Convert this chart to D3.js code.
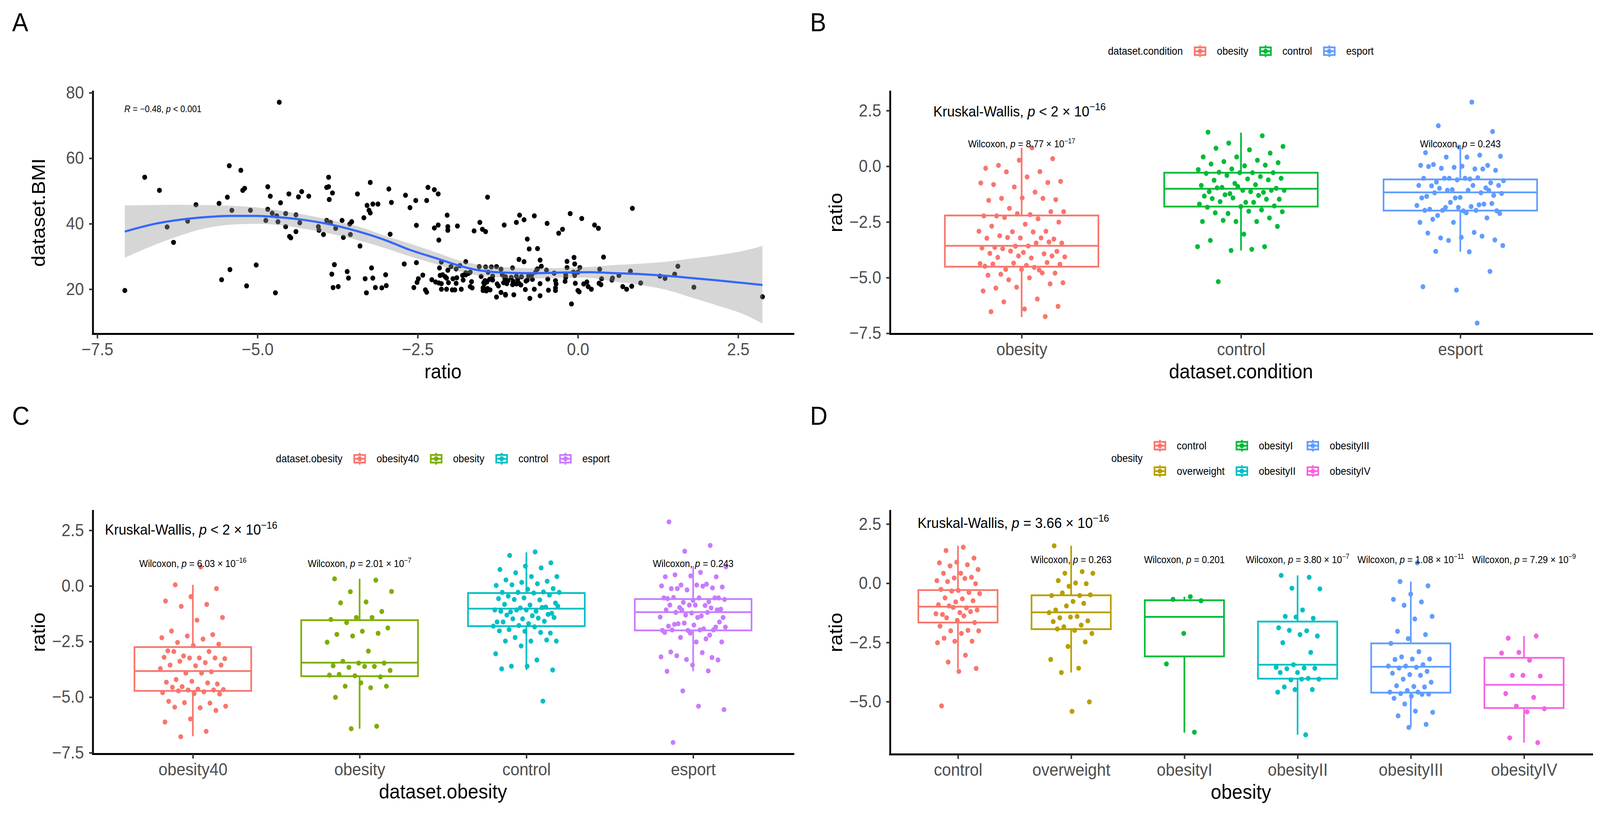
<!DOCTYPE html>
<html lang="en">
<head>
<meta charset="UTF-8">
<title>ratio vs BMI and obesity groups</title>
<style>
  html, body { margin: 0; padding: 0; background: #fff; overflow: hidden; }
  #figure svg { display: block; width: 100vw; height: 100vh; }
  svg text { font-family: "Liberation Sans", Arial, Helvetica, sans-serif; }
</style>
</head>
<body>
<div id="figure"></div>
<script src="https://cdn.jsdelivr.net/npm/d3@7"></script>
<script>
// ---------------- data ----------------

// panel A: [ratio, BMI]
var scatterPoints = [
  [-7.07,19.6],[-6.76,54.2],[-6.53,50.2],[-6.41,39.0],[-6.31,34.3],[-6.09,40.8],[-5.96,45.8],[-5.60,46.2],
  [-5.56,22.9],[-5.47,48.1],[-5.44,57.7],[-5.43,26.0],[-5.40,44.1],[-5.26,56.3],[-5.23,50.2],[-5.20,50.8],
  [-5.17,21.0],[-5.11,44.1],[-5.02,27.4],[-4.87,41.0],[-4.84,51.3],[-4.84,44.4],[-4.80,48.4],[-4.77,43.2],
  [-4.70,42.4],[-4.68,40.6],[-4.72,18.9],[-4.66,77.1],[-4.64,46.4],[-4.56,39.1],[-4.56,43.1],[-4.51,49.1],
  [-4.50,36.1],[-4.48,35.7],[-4.40,37.6],[-4.40,42.7],[-4.34,40.3],[-4.36,48.2],[-4.31,49.8],[-4.20,48.4],
  [-4.05,39.1],[-4.04,38.0],[-3.97,36.7],[-3.92,41.0],[-3.92,51.1],[-3.89,51.3],[-3.89,54.2],[-3.88,47.4],
  [-3.84,24.6],[-3.83,49.4],[-3.82,20.5],[-3.74,20.8],[-3.86,40.4],[-3.80,27.5],[-3.78,38.6],[-3.68,41.0],
  [-3.66,35.8],[-3.60,25.4],[-3.58,23.4],[-3.56,39.9],[-3.55,36.7],[-3.53,40.6],[-3.44,49.1],[-3.40,33.2],
  [-3.34,41.8],[-3.32,23.2],[-3.30,18.9],[-3.29,45.6],[-3.26,44.1],[-3.24,43.3],[-3.24,52.6],[-3.22,26.5],
  [-3.20,46.0],[-3.20,23.4],[-3.16,20.5],[-3.12,46.0],[-3.06,20.4],[-3.00,24.4],[-2.99,21.1],[-2.95,50.6],
  [-2.93,36.8],[-2.91,46.5],[-2.69,48.7],[-2.62,44.9],[-2.53,47.1],[-2.52,39.5],[-2.34,51.1],[-2.36,47.1],
  [-2.24,50.4],[-2.18,49.1],[-2.24,38.7],[-2.18,39.6],[-2.04,42.6],[-2.03,39.1],[-2.03,38.0],[-1.88,39.3],
  [-1.53,40.4],[-1.49,38.3],[-1.44,37.6],[-1.41,48.1],[-1.62,37.8],[-1.15,39.6],[-0.96,40.4],[-0.91,42.6],
  [-0.84,41.2],[-0.68,42.4],[-0.48,40.1],[-0.24,38.3],[-0.12,43.1],[0.06,41.6],[0.26,39.6],[0.32,38.6],
  [0.85,44.7],[1.36,23.3],[1.51,24.6],[1.56,27.0],[1.81,20.6],[2.88,17.7],
  [-2.17,35.0],[-0.79,35.3],[-0.30,37.1],[-0.76,32.3],[-0.63,32.4],[0.40,29.8],[-0.06,29.7],[-0.92,29.1],
  [-0.84,28.4],[-0.59,28.9],[-0.17,28.5],[-0.05,27.7],[-1.75,28.4],[-2.52,28.1],[-2.71,27.7],[-2.13,28.3],
  [-1.84,27.2],[-1.98,26.9],[-1.90,26.2],[-2.16,26.5],[-2.03,25.8],[-1.54,26.9],[-1.44,26.8],[-1.35,26.8],
  [-1.27,26.9],[-1.20,26.1],[-1.02,26.5],[-0.57,27.0],[-0.63,26.2],[-0.17,26.6],[0.03,26.6],[0.34,26.1],
  [0.82,25.5],[-0.49,25.8],[-0.37,24.9],[-0.07,25.2],[0.00,25.2],[-0.05,24.2],[-0.19,24.4],[-0.19,23.6],
  [0.64,24.2],[0.37,23.2],[0.54,23.4],[0.53,22.8],[0.98,21.9],[1.28,24.0],[-1.75,25.0],[-1.71,24.8],
  [-1.68,25.2],[-1.80,24.2],[-1.75,24.4],[-1.40,25.2],[-1.33,24.0],[-1.51,23.9],[-1.38,23.0],[-1.33,22.8],
  [-1.45,22.6],[-1.42,22.2],[-1.47,22.0],[-1.46,21.6],[-1.48,20.4],[-1.45,20.0],[-1.41,20.2],[-1.37,19.8],
  [-1.43,19.5],[-1.48,19.6],[-1.18,24.4],[-1.13,23.8],[-1.04,23.6],[-0.96,24.0],[-0.88,23.8],[-0.94,23.0],
  [-1.01,22.4],[-1.09,22.6],[-1.14,23.2],[-1.16,22.0],[-1.11,21.7],[-1.02,21.4],[-0.92,21.8],[-0.89,21.3],
  [-0.96,21.6],[-1.26,21.6],[-1.24,21.0],[-0.79,22.8],[-0.81,22.5],[-0.71,23.0],[-0.77,24.0],[-0.72,24.4],
  [-0.66,25.2],[-0.64,26.0],[-0.59,21.7],[-0.47,23.1],[-0.35,22.6],[-0.34,21.6],[-0.35,20.4],[-0.35,19.6],
  [-0.20,22.4],[-0.04,21.8],[0.09,21.6],[0.14,22.2],[0.16,20.8],[0.21,20.0],[0.00,19.6],[0.02,19.2],
  [0.33,21.8],[0.36,21.4],[0.70,20.8],[0.76,20.0],[0.84,20.9],[-0.68,20.0],[-0.82,19.9],[-0.46,19.7],
  [-0.59,18.0],[-0.75,17.2],[-0.10,15.5],[-1.00,18.3],[-1.20,19.0],[-1.13,18.2],[-1.13,18.4],[-1.27,17.6],
  [-2.42,24.3],[-2.49,23.2],[-2.51,22.1],[-2.56,20.5],[-2.38,19.8],[-2.36,19.1],[-2.28,22.9],[-2.22,22.2],
  [-2.13,21.7],[-2.17,21.9],[-2.13,20.0],[-2.05,20.0],[-2.11,24.4],[-2.07,23.8],[-2.05,23.4],[-2.15,24.2],
  [-2.02,22.0],[-1.95,23.2],[-1.89,23.5],[-1.96,19.8],[-1.92,19.8],[-1.90,21.8],[-1.82,20.0],[-1.79,22.8],
  [-1.68,20.8],[-1.65,20.4],[-1.66,22.3]
];

// loess fit and its confidence band
var smoothRatio = [-7.07,-6.62,-6.22,-5.82,-5.42,-5.02,-4.62,-4.22,-3.82,-3.42,-3.02,-2.62,-2.22,-1.82,-1.58,-1.34,-1.02,-0.62,-0.22,0.18,0.58,0.98,1.38,1.78,2.18,2.58,2.88];
var smoothFit   = [37.6,39.9,41.2,42.0,42.4,42.4,41.9,41.0,39.6,37.6,35.1,32.0,29.5,27.0,25.9,25.3,25.0,24.9,25.1,25.2,24.9,24.6,24.1,23.4,22.7,21.9,21.3];
var smoothUpper = [45.6,45.7,45.8,45.7,45.5,45.0,43.9,42.6,41.0,39.1,36.4,33.9,31.3,28.6,27.6,27.0,26.6,26.4,26.5,26.8,27.4,27.8,28.4,29.4,30.4,31.7,33.2];
var smoothLower = [29.6,33.4,36.3,38.6,39.7,40.0,39.5,38.3,36.8,34.9,32.6,30.0,27.7,25.3,24.3,23.8,23.3,23.3,23.6,23.5,22.3,21.3,19.8,17.4,15.0,12.4,9.5];

// panel B: ratio by dataset.condition
var conditionCats = ["obesity", "control", "esport"];
var ratioObesity = [0.83,0.04,0.34,0.27,-0.09,-0.24,-0.25,-0.68,-0.48,-0.82,-0.73,-0.93,-0.75,-1.16,-1.44,-1.50,-1.42,-1.53,-1.44,-1.89,-2.04,-2.17,-2.23,-2.04,-2.13,-2.23,-2.36,-2.30,-2.51,-2.60,-2.69,-2.92,-2.94,-2.92,-2.95,-3.12,-3.27,-3.22,-3.23,-3.22,-3.20,-3.45,-3.58,-3.64,-3.40,-3.59,-3.67,-3.45,-3.70,-3.82,-3.87,-3.91,-3.93,-3.81,-4.07,-4.12,-4.09,-4.03,-4.03,-4.49,-4.66,-4.63,-4.40,-4.45,-4.39,-4.32,-4.35,-4.37,-4.54,-4.85,-4.80,-4.63,-4.89,-4.79,-5.10,-5.23,-5.01,-5.47,-5.28,-5.43,-5.60,-5.96,-6.09,-6.29,-6.41,-6.53,-6.75];
var ratioControl = [1.53,1.37,1.04,0.89,0.74,0.81,0.59,0.42,0.42,0.27,0.21,0.16,0.02,0.10,0.05,-0.12,-0.15,-0.29,-0.27,-0.29,-0.29,-0.32,-0.46,-0.41,-0.54,-0.57,-0.63,-0.61,-0.77,-0.86,-0.83,-0.95,-0.99,-1.08,-1.14,-1.17,-1.23,-1.08,-1.14,-0.97,-1.08,-0.91,-1.34,-1.31,-1.28,-1.48,-1.62,-1.45,-1.48,-1.42,-1.70,-1.62,-1.59,-1.78,-1.81,-1.84,-1.96,-2.12,-2.04,-2.02,-2.09,-2.32,-2.48,-2.48,-2.48,-2.43,-2.70,-3.05,-3.33,-3.61,-3.78,-3.61,-3.73,-5.18];
var ratioEsport = [2.88,1.82,1.56,0.86,0.61,0.50,0.41,0.45,0.41,0.08,0.04,-0.05,0.04,-0.12,-0.09,-0.18,0.00,-0.01,-0.12,-0.54,-0.65,-0.57,-0.71,-0.74,-0.61,-0.54,-0.52,-0.54,-0.86,-0.54,-0.88,-0.97,-1.05,-0.86,-0.86,-0.99,-1.31,-1.40,-1.35,-1.19,-1.08,-1.22,-1.08,-1.19,-1.08,-1.42,-1.42,-1.98,-1.98,-2.00,-2.00,-1.93,-1.70,-1.62,-1.76,-1.81,-2.21,-1.67,-1.85,-1.98,-1.73,-1.85,-2.12,-2.09,-2.38,-2.32,-2.52,-2.52,-2.97,-3.22,-3.31,-3.19,-3.00,-3.14,-3.33,-3.56,-3.84,-3.82,-4.72,-5.56,-5.41,-7.04];
// [lower whisker, Q1, median, Q3, upper whisker]
var conditionBoxes = [[-6.77,-4.51,-3.57,-2.21,0.83],[-3.78,-1.81,-1.01,-0.29,1.51],[-3.84,-1.99,-1.17,-0.59,0.89]];
var conditionWilcoxon = ["8.77 × 10^−17", null, "0.243"];

// panel C: ratio by dataset.obesity
var obesityCats = ["obesity40", "obesity", "control", "esport"];
var ratioObesity40 = [0.85,0.05,-0.12,-0.48,-0.68,-0.83,-0.92,-1.42,-1.54,-2.03,-2.19,-2.25,-2.33,-2.39,-2.54,-2.62,-2.68,-2.92,-2.95,-3.15,-3.27,-3.24,-2.95,-3.24,-3.24,-3.21,-3.45,-3.39,-3.56,-3.59,-3.56,-3.86,-3.92,-3.72,-3.92,-4.21,-4.41,-4.29,-4.33,-4.36,-4.53,-4.66,-4.64,-4.56,-4.68,-4.68,-4.80,-4.76,-4.72,-4.86,-4.84,-5.19,-5.27,-5.25,-5.41,-5.48,-5.45,-5.60,-5.98,-6.12,-6.54,-6.78];
var ratioObesityLow = [0.32,0.26,-0.26,-0.25,-0.72,-0.76,-1.15,-1.42,-1.51,-1.42,-1.65,-1.89,-2.04,-2.18,-2.13,-2.25,-2.53,-2.93,-3.39,-3.47,-3.47,-3.59,-3.62,-3.66,-3.80,-3.62,-3.98,-4.09,-4.04,-4.01,-4.58,-4.51,-4.51,-4.36,-5.01,-6.31,-6.42];
var obesityBoxes = [[-6.76,-4.72,-3.83,-2.75,0.05],[-6.42,-4.06,-3.45,-1.54,0.32],[-3.78,-1.81,-1.02,-0.32,1.51],[-3.84,-2.00,-1.18,-0.59,0.89]];
var obesityWilcoxon = ["6.03 × 10^−16", "2.01 × 10^−7", null, "0.243"];

// panel D: ratio by obesity class
var classCats = ["control", "overweight", "obesityI", "obesityII", "obesityIII", "obesityIV"];
var classControl = [1.52,1.38,1.06,0.89,0.86,0.78,0.73,0.58,0.42,0.42,0.25,0.22,0.11,0.20,0.07,-0.02,-0.30,-0.26,-0.39,-0.33,-0.44,-0.66,-0.62,-0.74,-0.79,-0.91,-1.04,-0.96,-1.13,-1.24,-1.32,-1.20,-1.02,-1.29,-1.38,-1.46,-1.66,-1.57,-1.81,-1.99,-2.01,-2.01,-2.12,-2.32,-2.45,-2.45,-2.51,-3.04,-3.33,-3.60,-3.72,-5.18];
var classOverweight = [1.58,0.49,0.42,0.42,0.01,0.11,-0.02,-0.13,-0.52,-0.52,-0.41,-0.49,-0.77,-1.13,-0.85,-0.96,-1.24,-1.40,-1.46,-1.59,-1.43,-1.62,-1.77,-1.84,-2.12,-1.99,-1.93,-2.48,-2.67,-3.22,-3.59,-3.77,-5.01,-5.41];
var classObesityI = [-0.57,-0.68,-0.74,-2.12,-3.41,-6.29];
var classObesityII = [0.33,0.25,-0.21,-0.24,-1.13,-1.40,-1.48,-1.43,-1.88,-2.01,-1.99,-2.23,-2.17,-2.51,-2.92,-3.44,-3.55,-3.58,-3.61,-3.59,-3.77,-3.77,-4.02,-4.08,-4.05,-4.05,-4.38,-4.49,-4.49,-4.60,-6.40];
var classObesityIII = [0.86,0.07,-0.11,-0.46,-0.68,-0.79,-0.93,-1.40,-1.51,-2.03,-2.17,-2.34,-2.54,-2.89,-3.11,-3.20,-3.20,-3.22,-3.44,-3.50,-3.50,-3.55,-3.58,-3.72,-3.86,-3.80,-3.89,-4.05,-4.18,-4.36,-4.33,-4.38,-4.53,-4.60,-4.60,-4.66,-4.68,-4.77,-4.86,-4.69,-5.10,-5.45,-5.40,-5.60,-5.96,-6.09];
var classObesityIV = [-2.32,-2.23,-2.92,-2.95,-3.25,-3.89,-3.92,-3.89,-4.66,-4.82,-5.19,-5.30,-5.43,-6.53,-6.73];
var classBoxes = [[-3.61,-1.66,-0.99,-0.29,1.58],[-3.77,-1.94,-1.23,-0.51,1.58],[-6.31,-3.09,-1.42,-0.72,-0.57],[-6.40,-4.03,-3.44,-1.62,0.33],[-6.07,-4.62,-3.53,-2.54,0.07],[-6.73,-5.27,-4.29,-3.15,-2.23]];
var classWilcoxon = [null, "0.263", "0.201", "3.80 × 10^−7", "1.08 × 10^−11", "7.29 × 10^−9"];

var ratioTicks = [-7.5, -5, -2.5, 0, 2.5];

// ---------------- drawing ----------------
// fixed 4363 x 2083 drawing space, stretched over the whole window
var svg = d3.select("#figure").append("svg")
    .attr("viewBox", "0 0 4363 2083")
    .attr("preserveAspectRatio", "none");

var tickColor = "#333333", tickTextColor = "#4d4d4d";

// deterministic spread for the jittered points, in [-1, 1]
function jitter(n) {
    return (((n + 1) * 0.6180339887) % 1) * 2 - 1;
}

// text with an italic "*p*" part and an optional "^superscript" at the end
function richText(parent, x, y, size, anchor, str) {
    var t = parent.append("text")
        .attr("x", x).attr("y", y)
        .attr("text-anchor", anchor)
        .attr("fill", "#000")
        .style("font-size", size + "px");
    var parts = str.split("^");
    parts[0].split("*").forEach(function(s, i) {
        if (s) t.append("tspan").attr("font-style", i % 2 ? "italic" : "normal").text(s);
    });
    if (parts[1]) {
        t.append("tspan").attr("dy", -0.42 * size).style("font-size", (0.7 * size) + "px").text(parts[1]);
    }
    return t;
}

function styleAxis(g) {
    g.select(".domain").attr("stroke", "#000").attr("stroke-width", 5).attr("stroke-linecap", "square");
    g.selectAll(".tick line").attr("stroke", tickColor).attr("stroke-width", 4);
    g.selectAll(".tick text").attr("fill", tickTextColor).style("font-size", "44px");
}

function panelLetter(letter, x, y) {
    svg.append("text").attr("x", x).attr("y", y)
        .style("font-size", "66px").attr("fill", "#000").text(letter);
}

function axisTitles(xTitle, yTitle, left, right, top, bottom) {
    svg.append("text")
        .attr("x", (left + right) / 2).attr("y", bottom + 114)
        .attr("text-anchor", "middle").style("font-size", "52px").attr("fill", "#000")
        .text(xTitle);
    svg.append("text")
        .attr("transform", "translate(" + (left - 130) + "," + ((top + bottom) / 2) + ") rotate(-90)")
        .attr("text-anchor", "middle").style("font-size", "52px").attr("fill", "#000")
        .text(yTitle);
}

// legend with boxplot key glyphs, centred on cx
function drawLegend(title, labels, colors, rows, cx, cy) {
    var g = svg.append("g");
    var rowGap = 65;
    var t = g.append("text").attr("x", 0).attr("y", 0).attr("dy", "0.35em")
        .style("font-size", "27px").attr("fill", "#000").text(title);
    var x = t.node().getComputedTextLength() + 30;
    var cols = Math.ceil(labels.length / rows);
    for (var c = 0; c < cols; c++) {
        var maxW = 0;
        for (var r = 0; r < rows; r++) {
            var k = c * rows + r;
            if (k >= labels.length) continue;
            var ky = rows === 1 ? 0 : (r - (rows - 1) / 2) * rowGap;
            var key = g.append("g").attr("transform", "translate(" + x + "," + ky + ")")
                .attr("stroke", colors[k]).attr("stroke-width", 4.5);
            key.append("line").attr("x1", 17).attr("x2", 17).attr("y1", -15).attr("y2", 15);
            key.append("rect").attr("x", 2.25).attr("y", -9.75).attr("width", 29.5).attr("height", 19.5).attr("fill", "#fff");
            key.append("line").attr("x1", 2.25).attr("x2", 31.75).attr("y1", 0).attr("y2", 0);
            key.append("circle").attr("cx", 17).attr("cy", 0).attr("r", 6.5).attr("fill", colors[k]).attr("stroke", "none");
            var lt = g.append("text").attr("x", x + 63).attr("y", ky).attr("dy", "0.35em")
                .style("font-size", "27px").attr("fill", "#000").text(labels[k]);
            maxW = Math.max(maxW, lt.node().getComputedTextLength());
        }
        x += 63 + maxW + 30;
    }
    var bb = g.node().getBBox();
    g.attr("transform", "translate(" + (cx - bb.width / 2) + "," + cy + ")");
}

function drawBoxPanel(p) {
    var x = d3.scalePoint().domain(p.cats).range([p.left, p.right]).padding(0.6);
    var y = d3.scaleLinear().domain(p.yDomain).range([p.bottom, p.top]);
    var step = x.step(), boxW = step * 0.7, jw = step * 0.2;
    var items = p.cats.map(function(c, i) {
        return { cat: c, s: p.stats[i], col: p.colors[i], vals: p.groups[i], k: i, w: p.wilcoxon[i] };
    });
    var g = svg.append("g");

    // boxes
    var boxes = g.selectAll("g.box").data(items).join("g")
        .attr("class", "box")
        .attr("stroke", function(d) { return d.col; })
        .attr("stroke-width", 4.5)
        .attr("fill", "#fff");
    boxes.append("line")
        .attr("x1", function(d) { return x(d.cat); }).attr("x2", function(d) { return x(d.cat); })
        .attr("y1", function(d) { return y(d.s[4]); }).attr("y2", function(d) { return y(d.s[3]); });
    boxes.append("line")
        .attr("x1", function(d) { return x(d.cat); }).attr("x2", function(d) { return x(d.cat); })
        .attr("y1", function(d) { return y(d.s[1]); }).attr("y2", function(d) { return y(d.s[0]); });
    boxes.append("rect")
        .attr("x", function(d) { return x(d.cat) - boxW / 2; })
        .attr("width", boxW)
        .attr("y", function(d) { return y(d.s[3]); })
        .attr("height", function(d) { return y(d.s[1]) - y(d.s[3]); });
    boxes.append("line")
        .attr("x1", function(d) { return x(d.cat) - boxW / 2; }).attr("x2", function(d) { return x(d.cat) + boxW / 2; })
        .attr("y1", function(d) { return y(d.s[2]); }).attr("y2", function(d) { return y(d.s[2]); });

    // jittered points
    g.selectAll("g.pts").data(items).join("g")
        .attr("class", "pts")
        .attr("fill", function(d) { return d.col; })
        .selectAll("circle")
        .data(function(d) { return d.vals.map(function(v, j) { return { v: v, j: j, cat: d.cat, k: d.k }; }); })
        .join("circle")
        .attr("cx", function(d) { return x(d.cat) + jitter(d.j + 17 * d.k) * jw; })
        .attr("cy", function(d) { return y(d.v); })
        .attr("r", 6.5);

    // axes
    g.append("g")
        .attr("transform", "translate(0," + p.bottom + ")")
        .call(d3.axisBottom(x).tickSize(12).tickPadding(12).tickSizeOuter(0))
        .call(styleAxis);
    g.append("g")
        .attr("transform", "translate(" + p.left + ",0)")
        .call(d3.axisLeft(y).tickValues(p.yTicks).tickFormat(d3.format(".1f")).tickSize(10).tickPadding(14).tickSizeOuter(0))
        .call(styleAxis);

    // test labels
    richText(svg, p.kwX, y(p.kwY), 37.5, "start", p.kwText);
    items.forEach(function(d) {
        if (d.w) richText(svg, x(d.cat), y(0.85), 25, "middle", "Wilcoxon, *p* = " + d.w);
    });

    axisTitles(p.xTitle, "ratio", p.left, p.right, p.top, p.bottom);
    panelLetter(p.letter, p.letterX, p.letterY);
    drawLegend(p.legendTitle, p.cats, p.colors, p.legendRows, (p.left + p.right) / 2, p.legendY);
}

// ---- panel A ----
(function() {
    var left = 253, right = 2163, top = 234, bottom = 854;
    var x = d3.scaleLinear().domain([-7.57, 3.36]).range([left, right]);
    var y = d3.scaleLinear().domain([6.4, 80.4]).range([bottom, top]);
    var g = svg.append("g");

    g.append("g").selectAll("circle").data(scatterPoints).join("circle")
        .attr("cx", function(d) { return x(d[0]); })
        .attr("cy", function(d) { return y(d[1]); })
        .attr("r", 6.6)
        .attr("fill", "#000");

    var idx = d3.range(smoothRatio.length);
    g.append("path").datum(idx)
        .attr("fill", "#999999").attr("fill-opacity", 0.4)
        .attr("d", d3.area()
            .x(function(i) { return x(smoothRatio[i]); })
            .y0(function(i) { return y(smoothLower[i]); })
            .y1(function(i) { return y(smoothUpper[i]); })
            .curve(d3.curveMonotoneX));
    g.append("path").datum(idx)
        .attr("fill", "none").attr("stroke", "#3366FF").attr("stroke-width", 5.5)
        .attr("d", d3.line()
            .x(function(i) { return x(smoothRatio[i]); })
            .y(function(i) { return y(smoothFit[i]); })
            .curve(d3.curveMonotoneX));

    g.append("g")
        .attr("transform", "translate(0," + bottom + ")")
        .call(d3.axisBottom(x).tickValues(ratioTicks).tickFormat(d3.format(".1f")).tickSize(12).tickPadding(12).tickSizeOuter(0))
        .call(styleAxis);
    g.append("g")
        .attr("transform", "translate(" + left + ",0)")
        .call(d3.axisLeft(y).tickValues([20, 40, 60, 80]).tickFormat(d3.format("d")).tickSize(10).tickPadding(14).tickSizeOuter(0))
        .call(styleAxis);

    richText(svg, 339, 287, 23, "start", "*R* = −0.48, *p* < 0.001");
    axisTitles("ratio", "dataset.BMI", left, right, top, bottom);
    panelLetter("A", 33, 80);
})();

// ---- panel B ----
drawBoxPanel({
    cats: conditionCats,
    groups: [ratioObesity, ratioControl, ratioEsport],
    stats: conditionBoxes,
    wilcoxon: conditionWilcoxon,
    colors: ["#F8766D", "#00BA38", "#619CFF"],
    left: 2427, right: 4341, top: 234, bottom: 854,
    yDomain: [-7.52, 3.36], yTicks: ratioTicks,
    kwX: 2545, kwY: 2.24, kwText: "Kruskal-Wallis, *p* < 2 × 10^−16",
    xTitle: "dataset.condition", letter: "B", letterX: 2209, letterY: 80,
    legendTitle: "dataset.condition", legendRows: 1, legendY: 131
});

// ---- panel C ----
drawBoxPanel({
    cats: obesityCats,
    groups: [ratioObesity40, ratioObesityLow, ratioControl, ratioEsport],
    stats: obesityBoxes,
    wilcoxon: obesityWilcoxon,
    colors: ["#F8766D", "#7CAE00", "#00BFC4", "#C77CFF"],
    left: 253, right: 2163, top: 1307, bottom: 1929,
    yDomain: [-7.55, 3.38], yTicks: ratioTicks,
    kwX: 286, kwY: 2.30, kwText: "Kruskal-Wallis, *p* < 2 × 10^−16",
    xTitle: "dataset.obesity", letter: "C", letterX: 33, letterY: 1087,
    legendTitle: "dataset.obesity", legendRows: 1, legendY: 1174
});

// ---- panel D ----
drawBoxPanel({
    cats: classCats,
    groups: [classControl, classOverweight, classObesityI, classObesityII, classObesityIII, classObesityIV],
    stats: classBoxes,
    wilcoxon: classWilcoxon,
    colors: ["#F8766D", "#B79F00", "#00BA38", "#00BFC4", "#619CFF", "#F564E3"],
    left: 2427, right: 4341, top: 1307, bottom: 1930,
    yDomain: [-7.22, 3.06], yTicks: [-5, -2.5, 0, 2.5],
    kwX: 2502, kwY: 2.33, kwText: "Kruskal-Wallis, *p* = 3.66 × 10^−16",
    xTitle: "obesity", letter: "D", letterX: 2209, letterY: 1087,
    legendTitle: "obesity", legendRows: 2, legendY: 1173
});
</script>
</body>
</html>
